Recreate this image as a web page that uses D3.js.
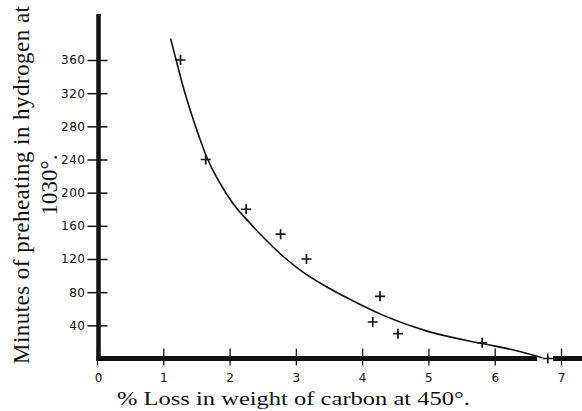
<!DOCTYPE html>
<html>
<head>
<meta charset="utf-8">
<script src="https://cdn.jsdelivr.net/npm/d3@7"></script>
<style>
  html, body { margin: 0; padding: 0; background: #fff; }
  svg { display: block; }
</style>
</head>
<body>
<svg id="chart" width="582" height="411"></svg>
<script>
// Observations (% loss, minutes)
const lossPct = [1.26, 1.64, 2.25, 2.77, 3.16, 4.16, 4.27, 4.54, 5.81, 6.80];
const minutes = [360, 240, 180, 150, 120, 44, 75, 30, 19, 0];

// Smooth curve drawn through the data
const curveX = [1.11, 1.20, 1.32, 1.47, 1.65, 1.85, 2.06, 2.31, 2.56, 2.81, 3.06, 3.41, 3.80, 4.32, 4.98, 5.81, 6.30, 6.72];
const curveY = [386, 358, 322, 284, 244, 212, 186, 163, 142, 123, 107, 89, 72, 52, 33, 18, 10, 1];

const xTicks = [0, 1, 2, 3, 4, 5, 6, 7];
const yTicks = [40, 80, 120, 160, 200, 240, 280, 320, 360];

const xTitle = "% Loss in weight of carbon at 450°.";
const yTitle1 = "Minutes of preheating in hydrogen at";
const yTitle2 = "1030°.";

const svg = d3.select("#chart");
const x = d3.scaleLinear().domain([0, 7]).range([97, 561]);
const y = d3.scaleLinear().domain([0, 360]).range([358.5, 60]);

const ink = "#111";
const serif = "'Liberation Serif', 'DejaVu Serif', serif";
const axisX = x(0) + 1.5;   // vertical axis line position
const axisY = y(0);         // horizontal axis line position

// Y axis ticks
const yAxis = svg.append("g")
  .attr("transform", `translate(${axisX},0)`)
  .call(d3.axisLeft(y).tickValues(yTicks).tickSize(11).tickPadding(2).tickFormat(d3.format("d")));
yAxis.select(".domain").remove();
yAxis.selectAll(".tick line").attr("x1", 9).attr("stroke", ink).attr("stroke-width", 1.5);
yAxis.selectAll(".tick text")
  .attr("fill", ink)
  .style("font-family", "'DejaVu Sans', sans-serif")
  .style("font-size", "12px")
  .attr("letter-spacing", "0.5");

// X axis ticks
const xAxis = svg.append("g")
  .attr("transform", `translate(0,${axisY})`)
  .call(d3.axisBottom(x).tickValues(xTicks).tickSize(7).tickPadding(8).tickFormat(d3.format("d")));
xAxis.select(".domain").remove();
xAxis.selectAll(".tick line").attr("y1", -10).attr("stroke", ink).attr("stroke-width", 1.3);
xAxis.selectAll(".tick text")
  .attr("fill", ink)
  .style("font-family", "'DejaVu Sans', sans-serif")
  .style("font-size", "12px");
xAxis.selectAll(".tick").filter(d => d === 0).select("text").attr("transform", "translate(1,0)");

// Thick axis lines
svg.append("line")
  .attr("x1", axisX).attr("x2", axisX)
  .attr("y1", axisY + 2.5).attr("y2", y(415.5))
  .attr("stroke", ink).attr("stroke-width", 4.5);
svg.append("line")
  .attr("x1", axisX - 2).attr("x2", x(6.64))
  .attr("y1", axisY).attr("y2", axisY)
  .attr("stroke", ink).attr("stroke-width", 5);
svg.append("line")
  .attr("x1", x(6.88)).attr("x2", 582)
  .attr("y1", axisY).attr("y2", axisY)
  .attr("stroke", ink).attr("stroke-width", 5);

// Curve
const curvePts = curveX.map((v, i) => [v, curveY[i]]);
svg.append("path")
  .datum(curvePts)
  .attr("fill", "none")
  .attr("stroke", ink)
  .attr("stroke-width", 1.6)
  .attr("d", d3.line().x(d => x(d[0])).y(d => y(d[1])).curve(d3.curveMonotoneX));

// Plus markers
const pts = lossPct.map((v, i) => [v, minutes[i]]);
const arm = 5;
const marks = svg.append("g").attr("stroke", ink).attr("stroke-width", 1.7);
marks.selectAll("path.plus")
  .data(pts)
  .join("path")
  .attr("class", "plus")
  .attr("d", d => {
    const cx = x(d[0]), cy = y(d[1]);
    return `M${cx - arm},${cy}H${cx + arm}M${cx},${cy - arm}V${cy + arm}`;
  });

// Titles
svg.append("text")
  .attr("x", 293.5).attr("y", 405)
  .attr("text-anchor", "middle")
  .attr("fill", ink)
  .style("font-family", serif)
  .style("font-size", "19px")
  .attr("textLength", 353)
  .attr("lengthAdjust", "spacingAndGlyphs")
  .text(xTitle);

svg.append("text")
  .attr("transform", "translate(29,185) rotate(-90)")
  .attr("text-anchor", "middle")
  .attr("fill", ink)
  .style("font-family", serif)
  .style("font-size", "23px")
  .attr("textLength", 358)
  .attr("lengthAdjust", "spacing")
  .text(yTitle1);

svg.append("text")
  .attr("transform", "translate(57,185) rotate(-90)")
  .attr("text-anchor", "middle")
  .attr("fill", ink)
  .style("font-family", serif)
  .style("font-size", "23px")
  .text(yTitle2);
</script>
</body>
</html>
